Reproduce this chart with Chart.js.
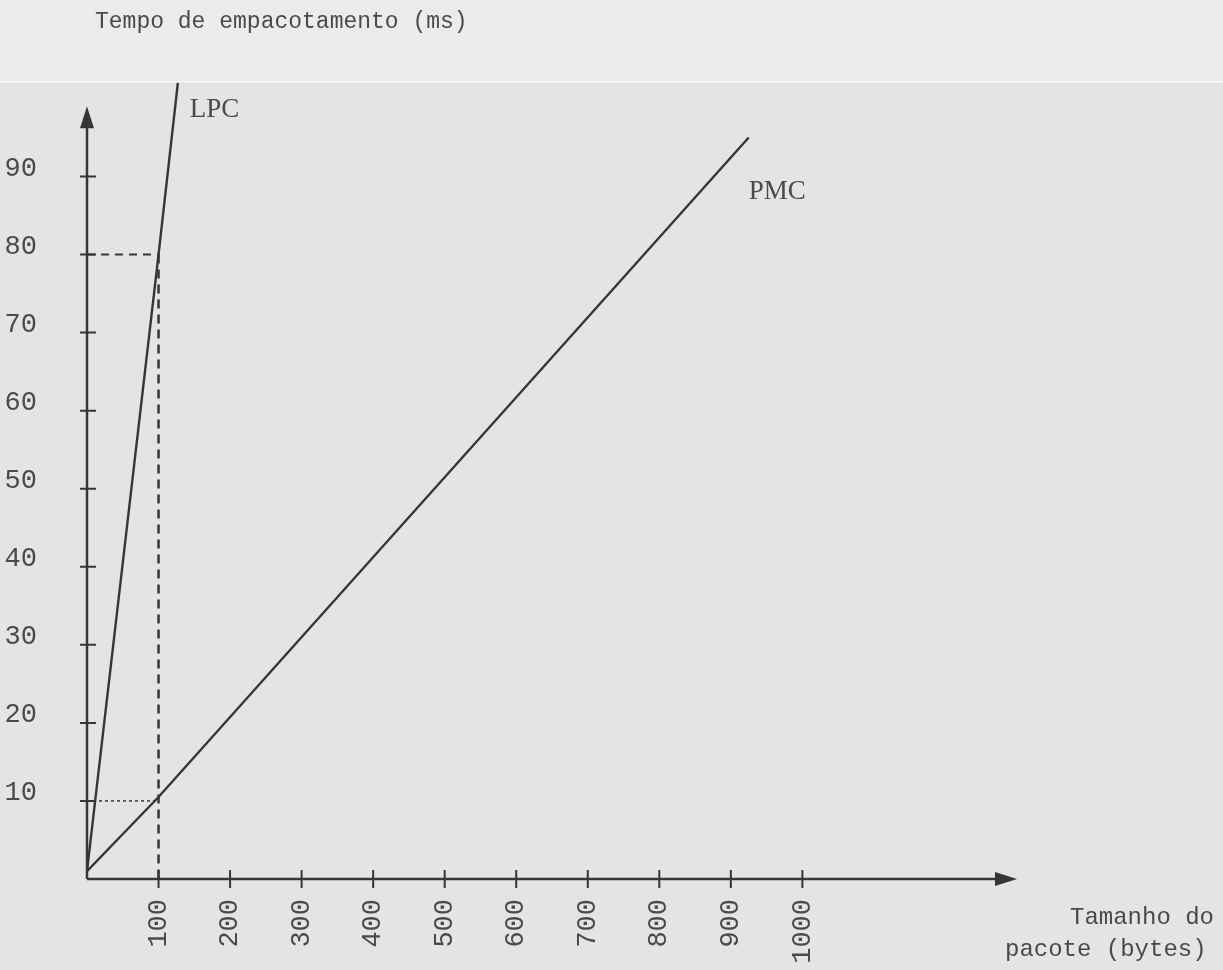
<!DOCTYPE html>
<html>
<head>
<meta charset="utf-8">
<script src="https://cdn.jsdelivr.net/npm/chart.js@4.4.1/dist/chart.umd.min.js"></script>
<style>
html, body { margin: 0; padding: 0; background: #e5e5e5; }
#wrap { width: 1223px; height: 970px; }
</style>
</head>
<body>
<div id="wrap"><canvas id="packChart" width="1223" height="970"></canvas></div>
<script>
// packing time (ms) against packet size (bytes)
const lpcBytes = [0, 100, 127];
const lpcMs = [1, 80, 102];
const pmcBytes = [0, 100, 925];
const pmcMs = [1, 10.5, 95];

const guideBytes = 100;
const guideLpcMs = 80;
const guidePmcMs = 10;

const xTickValues = [100, 200, 300, 400, 500, 600, 700, 800, 900, 1000];
const yTickValues = [10, 20, 30, 40, 50, 60, 70, 80, 90];

const xArrowBytes = 1300;
const yArrowMs = 99;

const ink = '#363636';
const textInk = '#4a4a4a';
const mono = "'Liberation Mono', 'Courier New', monospace";
const serif = "'Liberation Serif', 'Times New Roman', serif";

function toPoints(xs, ys) {
    return xs.map((x, i) => ({ x: x, y: ys[i] }));
}

// paper background + hand drawn axes with arrows and crossing ticks
const paperAxes = {
    id: 'paperAxes',
    beforeDraw(chart) {
        const ctx = chart.ctx;
        ctx.save();
        ctx.fillStyle = '#ebebeb';
        ctx.fillRect(0, 0, chart.width, 82);
        ctx.fillStyle = '#e4e4e4';
        ctx.fillRect(0, 82, chart.width, chart.height - 82);
        ctx.fillStyle = '#f6f6f6';
        ctx.fillRect(0, 81, chart.width, 1.5);
        ctx.restore();
    },
    afterDraw(chart) {
        const ctx = chart.ctx;
        const xs = chart.scales.x;
        const ys = chart.scales.y;
        const x0 = xs.getPixelForValue(0);
        const y0 = ys.getPixelForValue(0);
        const xEnd = xs.getPixelForValue(xArrowBytes);
        const yEnd = ys.getPixelForValue(yArrowMs);

        ctx.save();
        ctx.strokeStyle = ink;
        ctx.fillStyle = ink;
        ctx.lineWidth = 2.5;
        ctx.beginPath();
        ctx.moveTo(x0, y0);
        ctx.lineTo(x0, yEnd + 18);
        ctx.moveTo(x0, y0);
        ctx.lineTo(xEnd - 18, y0);
        ctx.stroke();

        // arrow heads
        ctx.beginPath();
        ctx.moveTo(x0, yEnd);
        ctx.lineTo(x0 - 7, yEnd + 22);
        ctx.lineTo(x0 + 7, yEnd + 22);
        ctx.closePath();
        ctx.fill();
        ctx.beginPath();
        ctx.moveTo(xEnd, y0);
        ctx.lineTo(xEnd - 22, y0 - 7);
        ctx.lineTo(xEnd - 22, y0 + 7);
        ctx.closePath();
        ctx.fill();

        ctx.lineWidth = 2;
        ctx.beginPath();
        xTickValues.forEach(v => {
            const px = xs.getPixelForValue(v);
            ctx.moveTo(px, y0 - 9);
            ctx.lineTo(px, y0 + 9);
        });
        yTickValues.forEach(v => {
            const py = ys.getPixelForValue(v);
            ctx.moveTo(x0 - 7, py);
            ctx.lineTo(x0 + 9, py);
        });
        ctx.stroke();

        // texts
        ctx.fillStyle = textInk;
        ctx.textBaseline = 'middle';
        ctx.textAlign = 'left';
        ctx.font = '23px ' + mono;
        ctx.fillText('Tempo de empacotamento (ms)', x0 + 8, 22);
        ctx.font = '24px ' + mono;
        ctx.fillText('Tamanho do', 1070, 918);
        ctx.fillText('pacote (bytes)', 1005, 950);

        ctx.font = '27px ' + serif;
        const lpcEnd = chart.getDatasetMeta(3).data[lpcBytes.length - 1];
        const pmcEnd = chart.getDatasetMeta(4).data[pmcBytes.length - 1];
        ctx.fillText('LPC', lpcEnd.x + 12, lpcEnd.y + 27);
        ctx.fillText('PMC', pmcEnd.x, pmcEnd.y + 54);
        ctx.restore();
    }
};

const tickFont = { family: mono, size: 27 };

new Chart(document.getElementById('packChart'), {
    type: 'scatter',
    data: {
        datasets: [
            {
                label: 'guia 100 bytes',
                data: [{ x: guideBytes, y: guideLpcMs }, { x: guideBytes, y: 0 }],
                borderColor: ink,
                borderWidth: 2.5,
                borderDash: [9, 6],
            },
            {
                label: 'guia LPC',
                data: [{ x: 0, y: guideLpcMs }, { x: guideBytes, y: guideLpcMs }],
                borderColor: ink,
                borderWidth: 2,
                borderDash: [8, 6],
            },
            {
                label: 'guia PMC',
                data: [{ x: 0, y: guidePmcMs }, { x: guideBytes, y: guidePmcMs }],
                borderColor: ink,
                borderWidth: 1.5,
                borderDash: [3, 3],
            },
            {
                label: 'LPC',
                data: toPoints(lpcBytes, lpcMs),
                borderColor: ink,
                borderWidth: 2.4,
            },
            {
                label: 'PMC',
                data: toPoints(pmcBytes, pmcMs),
                borderColor: ink,
                borderWidth: 2.4,
            }
        ]
    },
    options: {
        responsive: false,
        animation: false,
        showLine: true,
        elements: { point: { radius: 0, hoverRadius: 0 }, line: { tension: 0 } },
        layout: { padding: { top: 75, right: 206, left: 0, bottom: 0 } },
        plugins: {
            legend: { display: false },
            tooltip: { enabled: false },
        },
        scales: {
            x: {
                type: 'linear',
                min: 0,
                max: 1300,
                afterBuildTicks: s => { s.ticks = xTickValues.map(v => ({ value: v })); },
                afterFit: s => { s.height = 91; },
                grid: { display: false, drawTicks: false },
                border: { display: false },
                ticks: {
                    autoSkip: false,
                    minRotation: 90,
                    maxRotation: 90,
                    padding: 20,
                    color: textInk,
                    font: tickFont,
                    callback: v => String(v),
                },
            },
            y: {
                type: 'linear',
                min: 0,
                max: 103,
                afterBuildTicks: s => { s.ticks = yTickValues.map(v => ({ value: v })); },
                afterFit: s => { s.width = 87; },
                grid: { display: false, drawTicks: false },
                border: { display: false },
                ticks: {
                    autoSkip: false,
                    padding: 50,
                    labelOffset: -8,
                    color: textInk,
                    font: tickFont,
                    callback: v => String(v),
                },
            }
        }
    },
    plugins: [paperAxes]
});
</script>
</body>
</html>
